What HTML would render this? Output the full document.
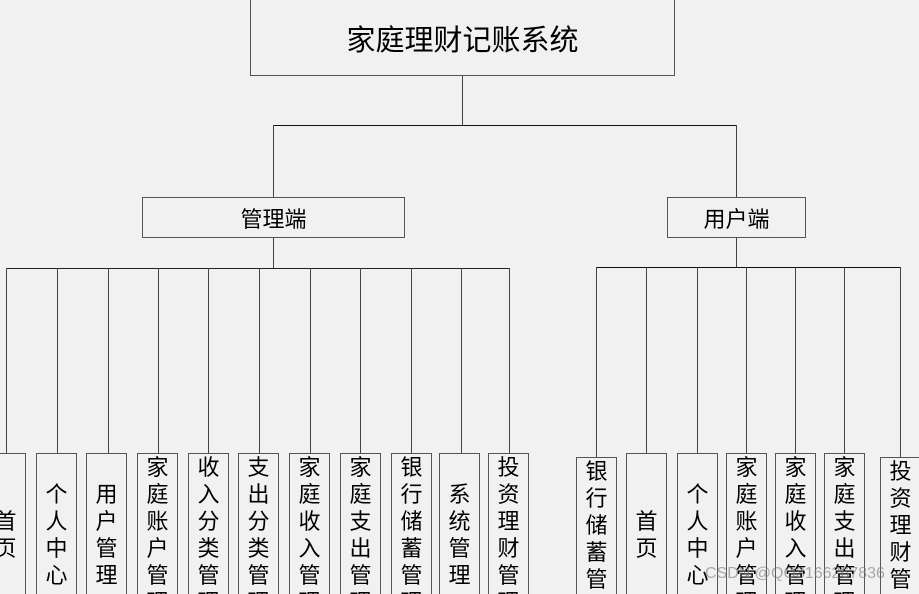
<!DOCTYPE html>
<html><head><meta charset="utf-8"><style>
html,body{margin:0;padding:0;background:#f1f1f1;width:919px;height:594px;overflow:hidden;position:relative;font-family:"Liberation Sans","Noto Sans CJK SC",sans-serif;color:#000}
.b{position:absolute;border:1px solid #555;box-sizing:border-box;display:flex;align-items:center;justify-content:center;}
.v{position:absolute;width:41px;height:164px;border:1px solid #555;box-sizing:border-box;display:flex;align-items:center;justify-content:center;font-size:22px;line-height:27px;text-align:center;word-break:break-all;padding:0 9px;overflow:visible}
.l{position:absolute;background:#444}
</style></head><body>
<div class="b" style="left:250px;top:-1px;width:425px;height:77px;font-size:29px">家庭理财记账系统</div>
<div class="l" style="left:462px;top:76px;width:1px;height:49px"></div>
<div class="l" style="left:273px;top:125px;width:464px;height:1px;background:#111"></div>
<div class="l" style="left:273px;top:125px;width:1px;height:72px"></div>
<div class="l" style="left:736px;top:125px;width:1px;height:72px"></div>
<div class="b" style="left:142px;top:197px;width:263px;height:41px;font-size:22px">管理端</div>
<div class="b" style="left:667px;top:197px;width:139px;height:41px;font-size:22px">用户端</div>
<div class="l" style="left:273px;top:238px;width:1px;height:30px"></div>
<div class="l" style="left:736px;top:238px;width:1px;height:29px"></div>
<div class="l" style="left:6px;top:268px;width:504px;height:1px;background:#222"></div>
<div class="l" style="left:596px;top:267px;width:305px;height:1px;background:#111"></div>

<div class="l" style="left:6px;top:268px;width:1px;height:185px"></div>
<div class="l" style="left:57px;top:268px;width:1px;height:185px"></div>
<div class="l" style="left:108px;top:268px;width:1px;height:185px"></div>
<div class="l" style="left:158px;top:268px;width:1px;height:185px"></div>
<div class="l" style="left:208px;top:268px;width:1px;height:185px"></div>
<div class="l" style="left:259px;top:268px;width:1px;height:185px"></div>
<div class="l" style="left:310px;top:268px;width:1px;height:185px"></div>
<div class="l" style="left:360px;top:268px;width:1px;height:185px"></div>
<div class="l" style="left:411px;top:268px;width:1px;height:185px"></div>
<div class="l" style="left:461px;top:268px;width:1px;height:185px"></div>
<div class="l" style="left:509px;top:268px;width:1px;height:185px"></div>

<div class="v" style="left:-15px;top:453px">首页</div>
<div class="v" style="left:36px;top:453px">个人中心</div>
<div class="v" style="left:86px;top:453px">用户管理</div>
<div class="v" style="left:137px;top:453px">家庭账户管理</div>
<div class="v" style="left:188px;top:453px">收入分类管理</div>
<div class="v" style="left:238px;top:453px">支出分类管理</div>
<div class="v" style="left:289px;top:453px">家庭收入管理</div>
<div class="v" style="left:340px;top:453px">家庭支出管理</div>
<div class="v" style="left:391px;top:453px">银行储蓄管理</div>
<div class="v" style="left:439px;top:453px">系统管理</div>
<div class="v" style="left:488px;top:453px">投资理财管理</div>

<div class="l" style="left:596px;top:267px;width:1px;height:190px"></div>
<div class="l" style="left:646px;top:267px;width:1px;height:186px"></div>
<div class="l" style="left:697px;top:267px;width:1px;height:186px"></div>
<div class="l" style="left:746px;top:267px;width:1px;height:186px"></div>
<div class="l" style="left:795px;top:267px;width:1px;height:186px"></div>
<div class="l" style="left:844px;top:267px;width:1px;height:186px"></div>
<div class="l" style="left:900px;top:267px;width:1px;height:190px"></div>

<div class="v" style="left:576px;top:457px">银行储蓄管理</div>
<div class="v" style="left:626px;top:453px">首页</div>
<div class="v" style="left:677px;top:453px">个人中心</div>
<div class="v" style="left:726px;top:453px">家庭账户管理</div>
<div class="v" style="left:775px;top:453px">家庭收入管理</div>
<div class="v" style="left:824px;top:453px">家庭支出管理</div>
<div class="v" style="left:880px;top:457px">投资理财管理</div>
<div style="position:absolute;left:705px;top:565px;font-size:16px;color:rgba(120,120,120,0.6)">CSDN @QQ3166267836</div>
</body></html>
